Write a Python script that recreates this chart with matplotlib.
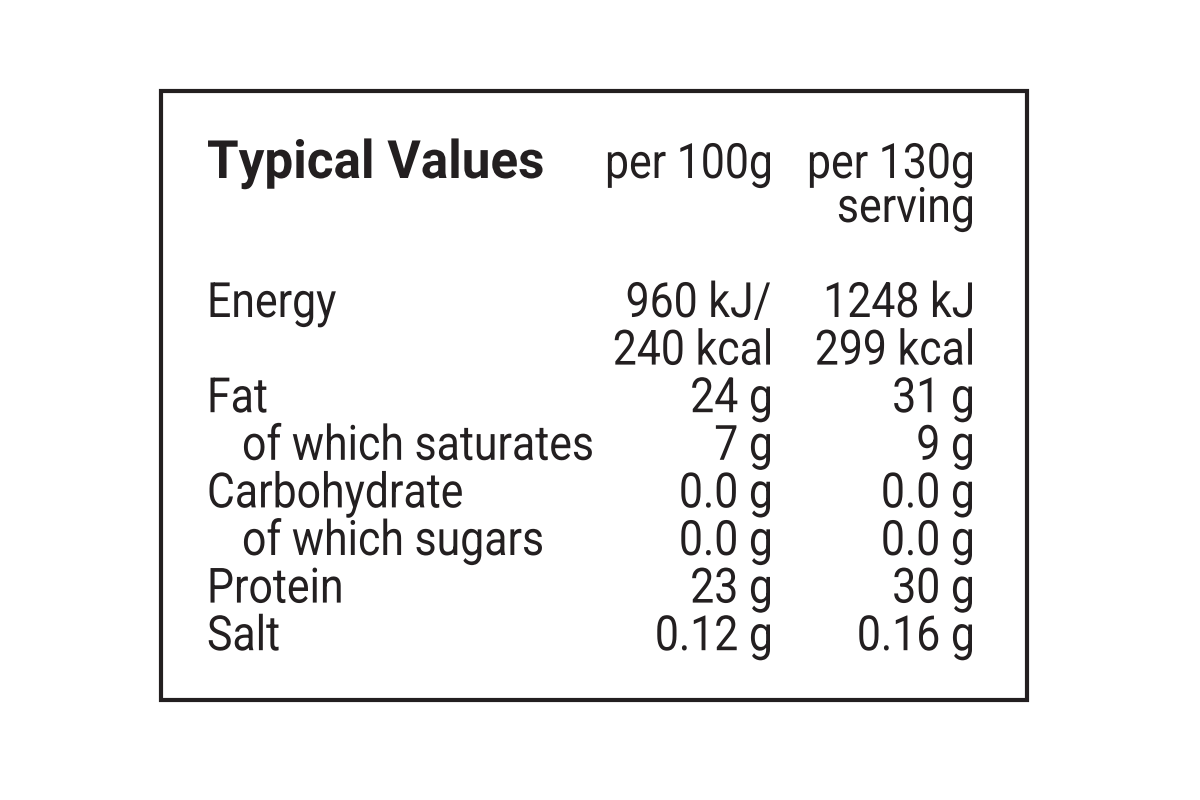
import matplotlib
matplotlib.use("Agg")
import matplotlib.pyplot as plt
from matplotlib.patches import Rectangle, PathPatch
from matplotlib.textpath import TextPath
from matplotlib.font_manager import FontProperties
from matplotlib.transforms import Affine2D

TITLE = "Typical Values"
HEAD_100 = ["per 100g"]
HEAD_SERV = ["per 130g", "serving"]
NUTRIENTS = ["Energy", "", "Fat", "   of which saturates", "Carbohydrate",
             "   of which sugars", "Protein", "Salt"]
PER_100G = ["960 kJ/", "240 kcal", "24 g", "7 g", "0.0 g", "0.0 g", "23 g", "0.12 g"]
PER_SERV = ["1248 kJ", "299 kcal", "31 g", "9 g", "0.0 g", "0.0 g", "30 g", "0.16 g"]

COL = "#231f20"
FS_PX = 35 * 100 / 72


def squeezed_text(ax, x, y, s, size=FS_PX, sx=0.88, ha="left", weight="normal"):
    # draw text as a path, condensed horizontally (no narrow font installed)
    if not s:
        return
    prop = FontProperties(family="Roboto", weight=weight)
    tp = TextPath((0, 0), s, size=size, prop=prop)
    ext = tp.get_extents()
    w = ext.x1 * sx
    x0 = x - w if ha == "right" else x
    tr = Affine2D().scale(sx, -1).translate(x0, y)
    ax.add_patch(PathPatch(tr.transform_path(tp), fc=COL, ec="none"))


fig = plt.figure(figsize=(12, 8), dpi=100)
ax = fig.add_axes([0, 0, 1, 1])
ax.set_xlim(0, 1200)
ax.set_ylim(800, 0)
ax.axis("off")

ax.add_patch(Rectangle((161, 91), 866, 609, fill=False, lw=3, ec=COL))

squeezed_text(ax, 207, 178, TITLE, size=38 * 100 / 72, sx=0.97, weight="bold")
for i, t in enumerate(HEAD_100):
    squeezed_text(ax, 770, 178 + 44 * i, t, ha="right")
for i, t in enumerate(HEAD_SERV):
    squeezed_text(ax, 972, 178 + 44 * i, t, ha="right")

y0, dy = 317, 47.6
for i, (n, a, b) in enumerate(zip(NUTRIENTS, PER_100G, PER_SERV)):
    y = y0 + dy * i
    x = 207
    if n.startswith("   "):
        x = 242
        n = n.strip()
    squeezed_text(ax, x, y, n)
    squeezed_text(ax, 770, y, a, ha="right")
    squeezed_text(ax, 972, y, b, ha="right")

fig.savefig("out.png", dpi=100)
